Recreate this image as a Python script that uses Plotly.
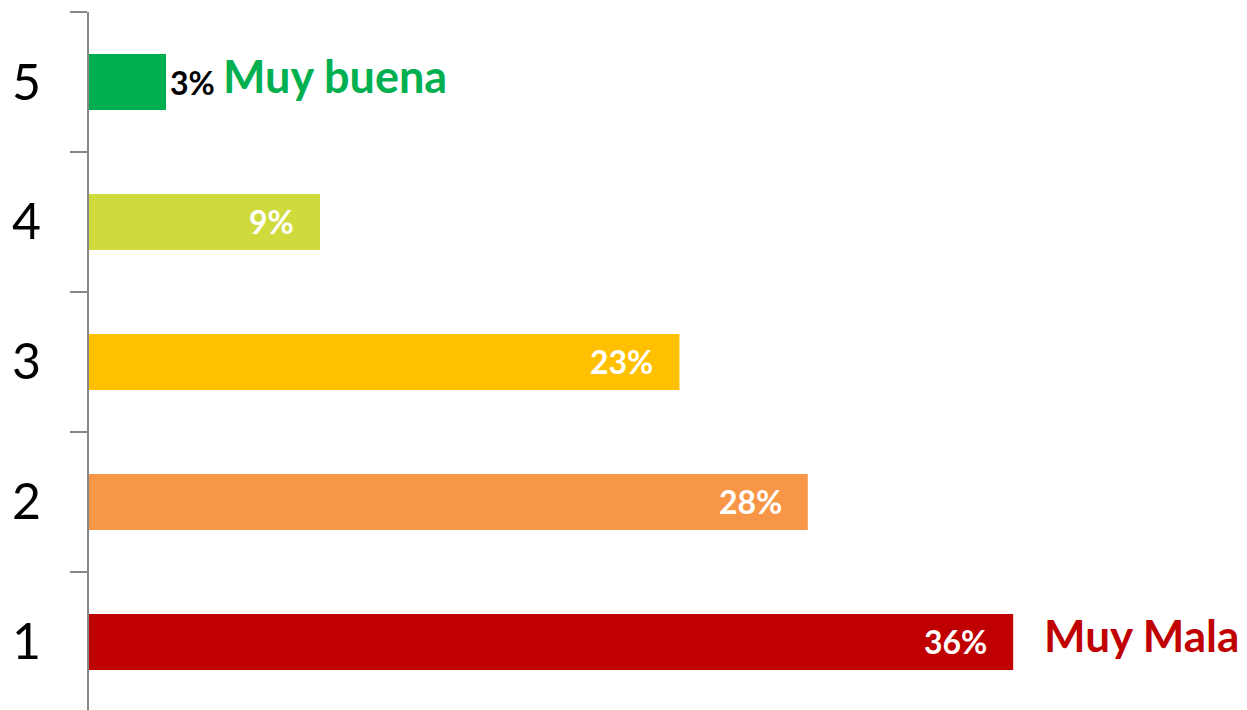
import plotly.graph_objects as go

# Data
categories = ["1", "2", "3", "4", "5"]
values = [36, 28, 23, 9, 3]
labels = ["36%", "28%", "23%", "9%", "3%"]
colors = ["#C00000", "#F79646", "#FFC000", "#CFDA3C", "#00B050"]

FONT = "Lato"

fig = go.Figure()
fig.add_trace(go.Bar(
    y=categories,
    x=values,
    orientation="h",
    marker=dict(color=colors, line=dict(width=0)),
    width=0.4,
    hoverinfo="skip",
))

# value labels: white inside the bar end, black outside for the short one
# (annotation y uses the category index, since the names look numeric)
for i, (val, lab) in enumerate(zip(values, labels)):
    inside = val > 5
    fig.add_annotation(
        x=val, y=i, text="<b>%s</b>" % lab, showarrow=False,
        xanchor="right" if inside else "left",
        xshift=-24 if inside else 2,
        font=dict(family=FONT, size=32, color="white" if inside else "black"),
    )

# end-of-scale captions
fig.add_annotation(
    x=values[4], y=4, text="<b>Muy buena</b>", showarrow=False,
    xanchor="left", xshift=55, yshift=6,
    font=dict(family=FONT, size=45, color="#00B050"),
)
fig.add_annotation(
    x=values[0], y=0, text="<b>Muy Mala</b>", showarrow=False,
    xanchor="left", xshift=29, yshift=7,
    font=dict(family=FONT, size=44, color="#C00000"),
)

# page body has an 8px margin, so margins are trimmed to land the axis at x=89
fig.update_layout(
    width=1247, height=710,
    margin=dict(l=81, r=0, t=4, b=0),
    plot_bgcolor="white", paper_bgcolor="white",
    showlegend=False,
    xaxis=dict(range=[0, 45.42], visible=False, showgrid=False, zeroline=False),
    yaxis=dict(
        type="category",
        range=[-0.543, 4.5],
        automargin=False,
        showline=True, linecolor="#868686", linewidth=2,
        ticks="outside", tickson="boundaries", ticklen=17,
        tickcolor="#868686", tickwidth=2,
        ticklabelstandoff=36,
        showgrid=False, zeroline=False,
        tickfont=dict(family=FONT, size=50, color="black"),
    ),
)

fig.write_html("out.html")
